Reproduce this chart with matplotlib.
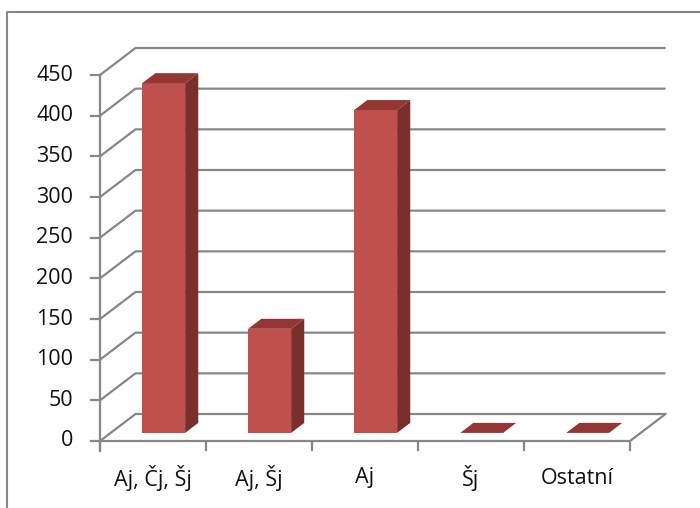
import matplotlib
matplotlib.use("Agg")
import matplotlib.pyplot as plt
from matplotlib.patches import Polygon
from matplotlib.lines import Line2D

categories = ["Aj, Čj, Šj", "Aj, Šj", "Aj", "Šj", "Ostatní"]
values = [430, 128, 397, 0, 0]
yticks = [0, 50, 100, 150, 200, 250, 300, 350, 400, 450]

plt.rcParams["font.family"] = ["Open Sans", "DejaVu Sans"]

W, H = 700, 508
fig = plt.figure(figsize=(W / 100, H / 100), dpi=100)
ax = fig.add_axes([0, 0, 1, 1])

# pixel layout of the plot box: 106 px per category, 0.8133 px per unit
x0, cat_px = 100, 106
y0, val_px = 441, 0.8133
ax.set_xlim(-x0 / cat_px, (W - x0) / cat_px)
ax.set_ylim(-(H - y0) / val_px, y0 / val_px)
ax.axis("off")

# oblique depth offset (back wall relative to front)
DX = 35.5 / cat_px
DY = 27 / val_px
grid_c = "#878787"
lw = 1.6
n = len(categories)
ymax = yticks[-1]
fs = 15.5

# left wall, back wall gridlines
for v in yticks:
    ax.plot([0, DX, n + DX], [v, v + DY, v + DY], color=grid_c, lw=lw,
            solid_capstyle="butt", zorder=1)
    ax.plot([-9 / cat_px, 0], [v, v], color=grid_c, lw=lw, zorder=1)
    ax.text(-27 / cat_px, v, str(v), ha="right", va="center", fontsize=fs,
            color="#111111")

# floor front edge and right edge
ax.plot([0, n, n + DX], [0, 0, DY], color=grid_c, lw=lw, zorder=1)
# vertical value axis
ax.plot([0, 0], [-10 / val_px, ymax], color=grid_c, lw=lw, zorder=1)
# category ticks and labels
for i in range(n + 1):
    ax.plot([i, i], [-2 / val_px, -9 / val_px], color=grid_c, lw=lw, zorder=1)
for i, lab in enumerate(categories):
    ax.text(i + 0.5, -37 / val_px, lab, ha="center", va="center", fontsize=fs,
            color="#111111")

# 3D columns
front_c, side_c, top_c = "#C0504D", "#7B2F2D", "#943634"
bw = 0.405
f0, f1 = 0.3, 0.67
for i, v in enumerate(values):
    xl = i + 0.5 - bw / 2 + f0 * DX
    xr = xl + bw
    yb = f0 * DY
    yt = v + f0 * DY
    ddx = (f1 - f0) * DX
    ddy = (f1 - f0) * DY
    top = [(xl, yt), (xr, yt), (xr + ddx, yt + ddy), (xl + ddx, yt + ddy)]
    if v > 0:
        front = [(xl, yb), (xr, yb), (xr, yt), (xl, yt)]
        side = [(xr, yb), (xr + ddx, yb + ddy), (xr + ddx, yt + ddy), (xr, yt)]
        ax.add_patch(Polygon(front, closed=True, fc=front_c, ec="none", zorder=3))
        ax.add_patch(Polygon(side, closed=True, fc=side_c, ec="none", zorder=3))
    ax.add_patch(Polygon(top, closed=True, fc=top_c, ec="none", zorder=3))

# chart area border (cropped at right and bottom)
fig.add_artist(Line2D([7 / W, 7 / W, 1], [0, 1 - 12 / H, 1 - 12 / H],
                      transform=fig.transFigure, color=grid_c, lw=1.5))

fig.savefig("out.png", dpi=100)
